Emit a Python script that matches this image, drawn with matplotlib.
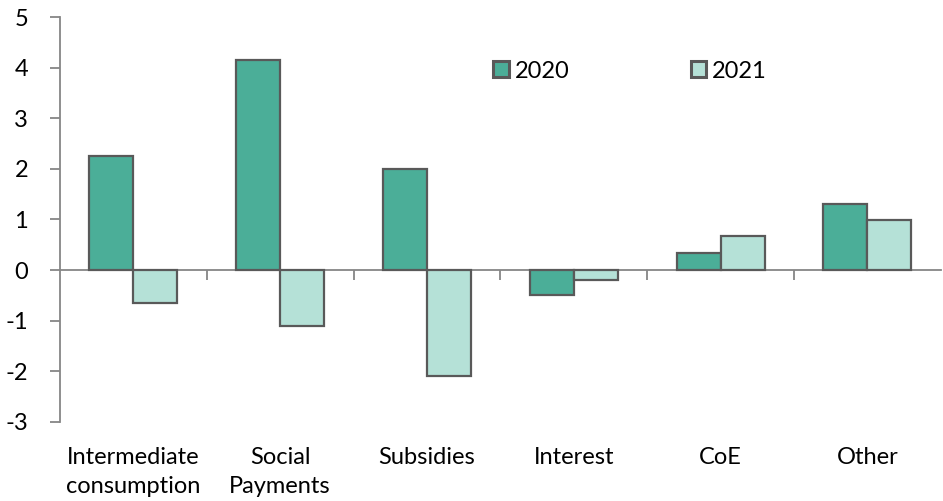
import numpy as np
import matplotlib.pyplot as plt
from matplotlib.transforms import blended_transform_factory

# data
categories = ["Intermediate\nconsumption", "Social\nPayments", "Subsidies",
              "Interest", "CoE", "Other"]
vals_2020 = [2.25, 4.15, 2.0, -0.5, 0.33, 1.3]
vals_2021 = [-0.65, -1.1, -2.1, -0.2, 0.67, 0.98]

plt.rcParams['font.family'] = ['Lato', 'DejaVu Sans']
fs = 17

fig = plt.figure(figsize=(9.43, 5.01), dpi=100)
ax = fig.add_axes([0.0636, 0.158, 0.934, 0.808])

x = np.arange(len(categories))
w = 0.3
edge = "#595959"
ax.bar(x - w/2, vals_2020, w, color="#4BAE98", edgecolor=edge, linewidth=1.6,
       label="2020", zorder=3)
ax.bar(x + w/2, vals_2021, w, color="#B5E1D7", edgecolor=edge, linewidth=1.6,
       label="2021", zorder=3)

ax.set_xlim(-0.5, len(categories) - 0.5)
ax.set_ylim(-3, 5)
ax.set_yticks(range(-3, 6))
ax.set_yticklabels([str(v) for v in range(-3, 6)], fontsize=fs)

# spines
for s in ["top", "right"]:
    ax.spines[s].set_visible(False)
ax.spines["left"].set_color("#868686")
ax.spines["left"].set_linewidth(1.3)
ax.spines["bottom"].set_position(("data", 0))
ax.spines["bottom"].set_color("#868686")
ax.spines["bottom"].set_linewidth(1.3)
ax.tick_params(axis="y", length=7, width=1.3, color="#868686", pad=16)

# ticks at category boundaries on zero line
ax.set_xticks(np.arange(0.5, len(categories) - 0.5, 1))
ax.set_xticklabels([])
ax.tick_params(axis="x", length=7, width=1.3, color="#868686", direction="out")

# category labels below the plot
trans = blended_transform_factory(ax.transData, ax.transAxes)
for xi, lab in zip(x, categories):
    ax.text(xi, -0.062, lab, transform=trans, ha="center", va="top",
            fontsize=fs, linespacing=1.5)

leg = ax.legend(loc="upper left", bbox_to_anchor=(0.468, 0.945), ncol=2,
                frameon=False, fontsize=fs, handlelength=0.65, handleheight=0.65,
                handletextpad=0.25, columnspacing=5.15)
for h in leg.legend_handles:
    h.set_linewidth(2.2)

fig.savefig("out.png", dpi=100)
